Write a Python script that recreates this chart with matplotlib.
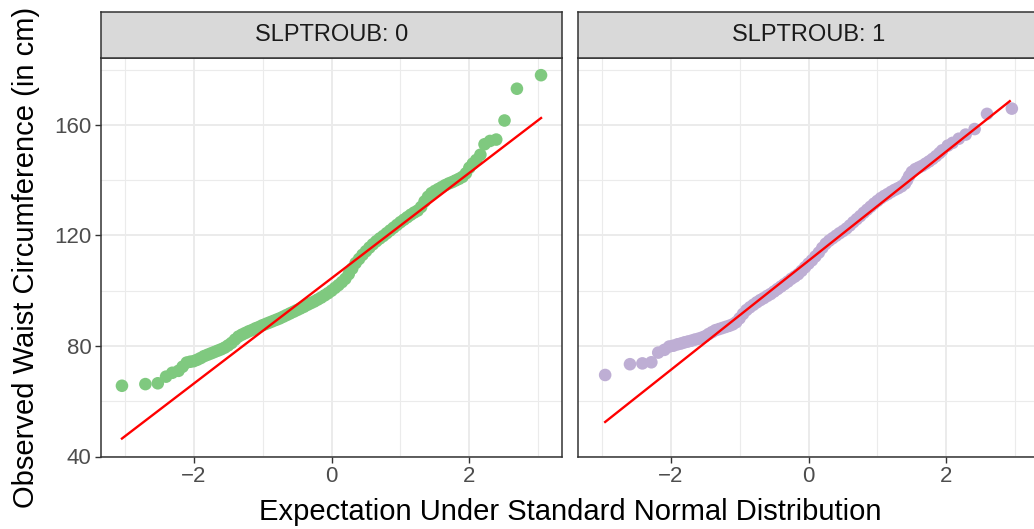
import matplotlib
matplotlib.use("Agg")
import matplotlib.pyplot as plt
import numpy as np

plt.rcParams['font.family'] = ['Liberation Sans', 'DejaVu Sans']

# theoretical quantile / observed waist (cm)
slp0_theo = [-3.04, -2.70, -2.52, -2.40, -2.31, -2.22, -2.16, -2.10, -2.05, -2.00,
             -1.95, -1.90, -1.85, -1.80, -1.75, -1.70, -1.65, -1.60, -1.55, -1.50,
             -1.45, -1.40, -1.35, -1.30, -1.25, -1.20, -1.15, -1.10, -1.05, -1.00,
             -0.95, -0.90, -0.85, -0.80, -0.75, -0.70, -0.65, -0.60, -0.55, -0.50,
             -0.45, -0.40, -0.35, -0.30, -0.25, -0.20, -0.15, -0.10, -0.05, 0.00,
             0.05, 0.10, 0.15, 0.20, 0.25, 0.30, 0.35, 0.40, 0.45, 0.50,
             0.55, 0.60, 0.65, 0.70, 0.75, 0.80, 0.85, 0.90, 0.95, 1.00,
             1.05, 1.10, 1.15, 1.20, 1.25, 1.30, 1.35, 1.40, 1.45, 1.50,
             1.55, 1.60, 1.65, 1.70, 1.75, 1.80, 1.85, 1.90, 1.95, 2.00,
             2.05, 2.10, 2.16, 2.22, 2.30, 2.39, 2.51, 2.69, 3.04]
slp0_obs = [65.6, 66.2, 66.5, 68.9, 70.3, 71.0, 72.5, 74.0, 74.3, 74.5,
            75.0, 75.6, 76.3, 76.8, 77.3, 77.8, 78.3, 78.8, 79.4, 80.2,
            81.1, 82.3, 83.4, 84.1, 84.7, 85.3, 85.8, 86.4, 86.9, 87.5,
            88.0, 88.5, 89.0, 89.5, 90.0, 90.6, 91.2, 91.8, 92.4, 93.0,
            93.6, 94.2, 94.9, 95.5, 96.1, 96.8, 97.5, 98.3, 99.1, 100.0,
            101.0, 102.0, 103.1, 104.3, 106.0, 108.0, 110.0, 111.5, 113.0, 114.3,
            115.6, 116.8, 117.9, 118.9, 119.8, 120.8, 121.8, 122.8, 123.8, 124.8,
            125.7, 126.6, 127.5, 128.3, 129.0, 130.3, 132.3, 134.0, 135.3, 136.1,
            136.8, 137.5, 138.2, 138.8, 139.3, 139.9, 140.5, 141.2, 142.5, 144.5,
            146.0, 147.3, 149.2, 153.0, 154.2, 154.7, 161.6, 173.1, 178.0]

slp1_theo = [-2.95, -2.59, -2.41, -2.28, -2.18, -2.09, -2.02, -1.96, -1.90, -1.85,
             -1.80, -1.75, -1.70, -1.65, -1.60, -1.55, -1.50, -1.45, -1.40, -1.35,
             -1.30, -1.25, -1.20, -1.15, -1.10, -1.05, -1.00, -0.95, -0.90, -0.85,
             -0.80, -0.75, -0.70, -0.65, -0.60, -0.55, -0.50, -0.45, -0.40, -0.35,
             -0.30, -0.25, -0.20, -0.15, -0.10, -0.05, 0.00, 0.05, 0.10, 0.15,
             0.20, 0.25, 0.30, 0.35, 0.40, 0.45, 0.50, 0.55, 0.60, 0.65,
             0.70, 0.75, 0.80, 0.85, 0.90, 0.95, 1.00, 1.05, 1.10, 1.15,
             1.20, 1.25, 1.30, 1.35, 1.40, 1.43, 1.46, 1.50, 1.55, 1.60,
             1.65, 1.70, 1.75, 1.80, 1.85, 1.90, 1.94, 2.02, 2.09, 2.18,
             2.28, 2.41, 2.59, 2.95]
slp1_obs = [69.5, 73.4, 73.7, 74.1, 77.6, 78.6, 79.8, 80.1, 80.6, 80.9,
            81.3, 81.6, 81.9, 82.3, 82.6, 83.0, 83.5, 84.3, 85.0, 85.7,
            86.1, 86.5, 86.9, 87.3, 87.8, 88.6, 90.0, 91.6, 93.0, 94.0,
            94.9, 95.8, 96.6, 97.3, 98.1, 98.8, 99.7, 100.6, 101.5, 102.4,
            103.3, 104.3, 105.1, 106.0, 107.2, 108.5, 109.8, 111.0, 112.4, 113.8,
            115.5, 117.0, 118.1, 119.0, 119.9, 120.8, 121.6, 122.5, 123.6, 124.8,
            125.9, 127.0, 128.2, 129.3, 130.4, 131.5, 132.5, 133.5, 134.3, 135.0,
            135.8, 136.5, 137.1, 137.8, 138.8, 140.0, 141.5, 143.0, 144.0, 144.6,
            145.2, 146.0, 146.8, 147.7, 148.7, 149.8, 150.8, 152.5, 153.5, 155.0,
            156.5, 158.5, 164.0, 165.9]

# qq reference line end points
line0_x = [-3.04, 3.04]
line0_y = [46.5, 162.5]
line1_x = [-2.95, 2.92]
line1_y = [52.5, 168.6]

panels = [("SLPTROUB: 0", slp0_theo, slp0_obs, line0_x, line0_y, "#7FC97F"),
          ("SLPTROUB: 1", slp1_theo, slp1_obs, line1_x, line1_y, "#BEAED4")]

W, H = 1034, 529
fig = plt.figure(figsize=(W / 100, H / 100), dpi=100)

pan_w = 461
pan_lefts = [101, 578]
pan_top, pan_bot = 57.5, 456.5
strip_top = 11.7

for i, (title, xs, ys, lx, ly, col) in enumerate(panels):
    left = pan_lefts[i]
    ax = fig.add_axes([left / W, 1 - pan_bot / H, pan_w / W, (pan_bot - pan_top) / H])
    ax.set_xlim(-3.344, 3.344)
    ax.set_ylim(40, 184.4)
    ax.set_xticks([-2, 0, 2])
    ax.set_xticklabels(["\u22122", "0", "2"])
    ax.set_xticks([-3, -1, 1, 3], minor=True)
    ax.set_yticks([40, 80, 120, 160])
    ax.set_yticks([60, 100, 140, 180], minor=True)
    ax.grid(which="major", color="#EBEBEB", lw=1.4)
    ax.grid(which="minor", color="#EBEBEB", lw=0.8)
    ax.set_axisbelow(True)
    ax.tick_params(which="major", length=4.2, width=1.0, color="#333333",
                   labelsize=16, labelcolor="#4D4D4D", pad=2.5)
    ax.tick_params(which="minor", length=0)
    if i > 0:
        ax.tick_params(axis="y", labelleft=False, length=0)
    for sp in ax.spines.values():
        sp.set_color("#333333")
        sp.set_linewidth(1.1)

    ax.scatter(xs, ys, s=82, color=col, edgecolors="none", zorder=3)
    ax.plot(lx, ly, color="red", lw=1.7, zorder=4)

    # facet strip
    sax = fig.add_axes([left / W, 1 - pan_top / H, pan_w / W, (pan_top - strip_top) / H])
    sax.set_facecolor("#D9D9D9")
    sax.set_xticks([])
    sax.set_yticks([])
    for sp in sax.spines.values():
        sp.set_color("#333333")
        sp.set_linewidth(1.1)
    sax.text(0.5, 0.5, title, ha="center", va="center", fontsize=17,
             color="#1A1A1A", transform=sax.transAxes)

fig.text(570 / W, 1 - 512 / H, "Expectation Under Standard Normal Distribution",
         ha="center", va="center", fontsize=21)
fig.text(26 / W, 1 - 257 / H, "Observed Waist Circumference (in cm)",
         ha="center", va="center", rotation=90, fontsize=21)

fig.savefig("out.png", dpi=100)
